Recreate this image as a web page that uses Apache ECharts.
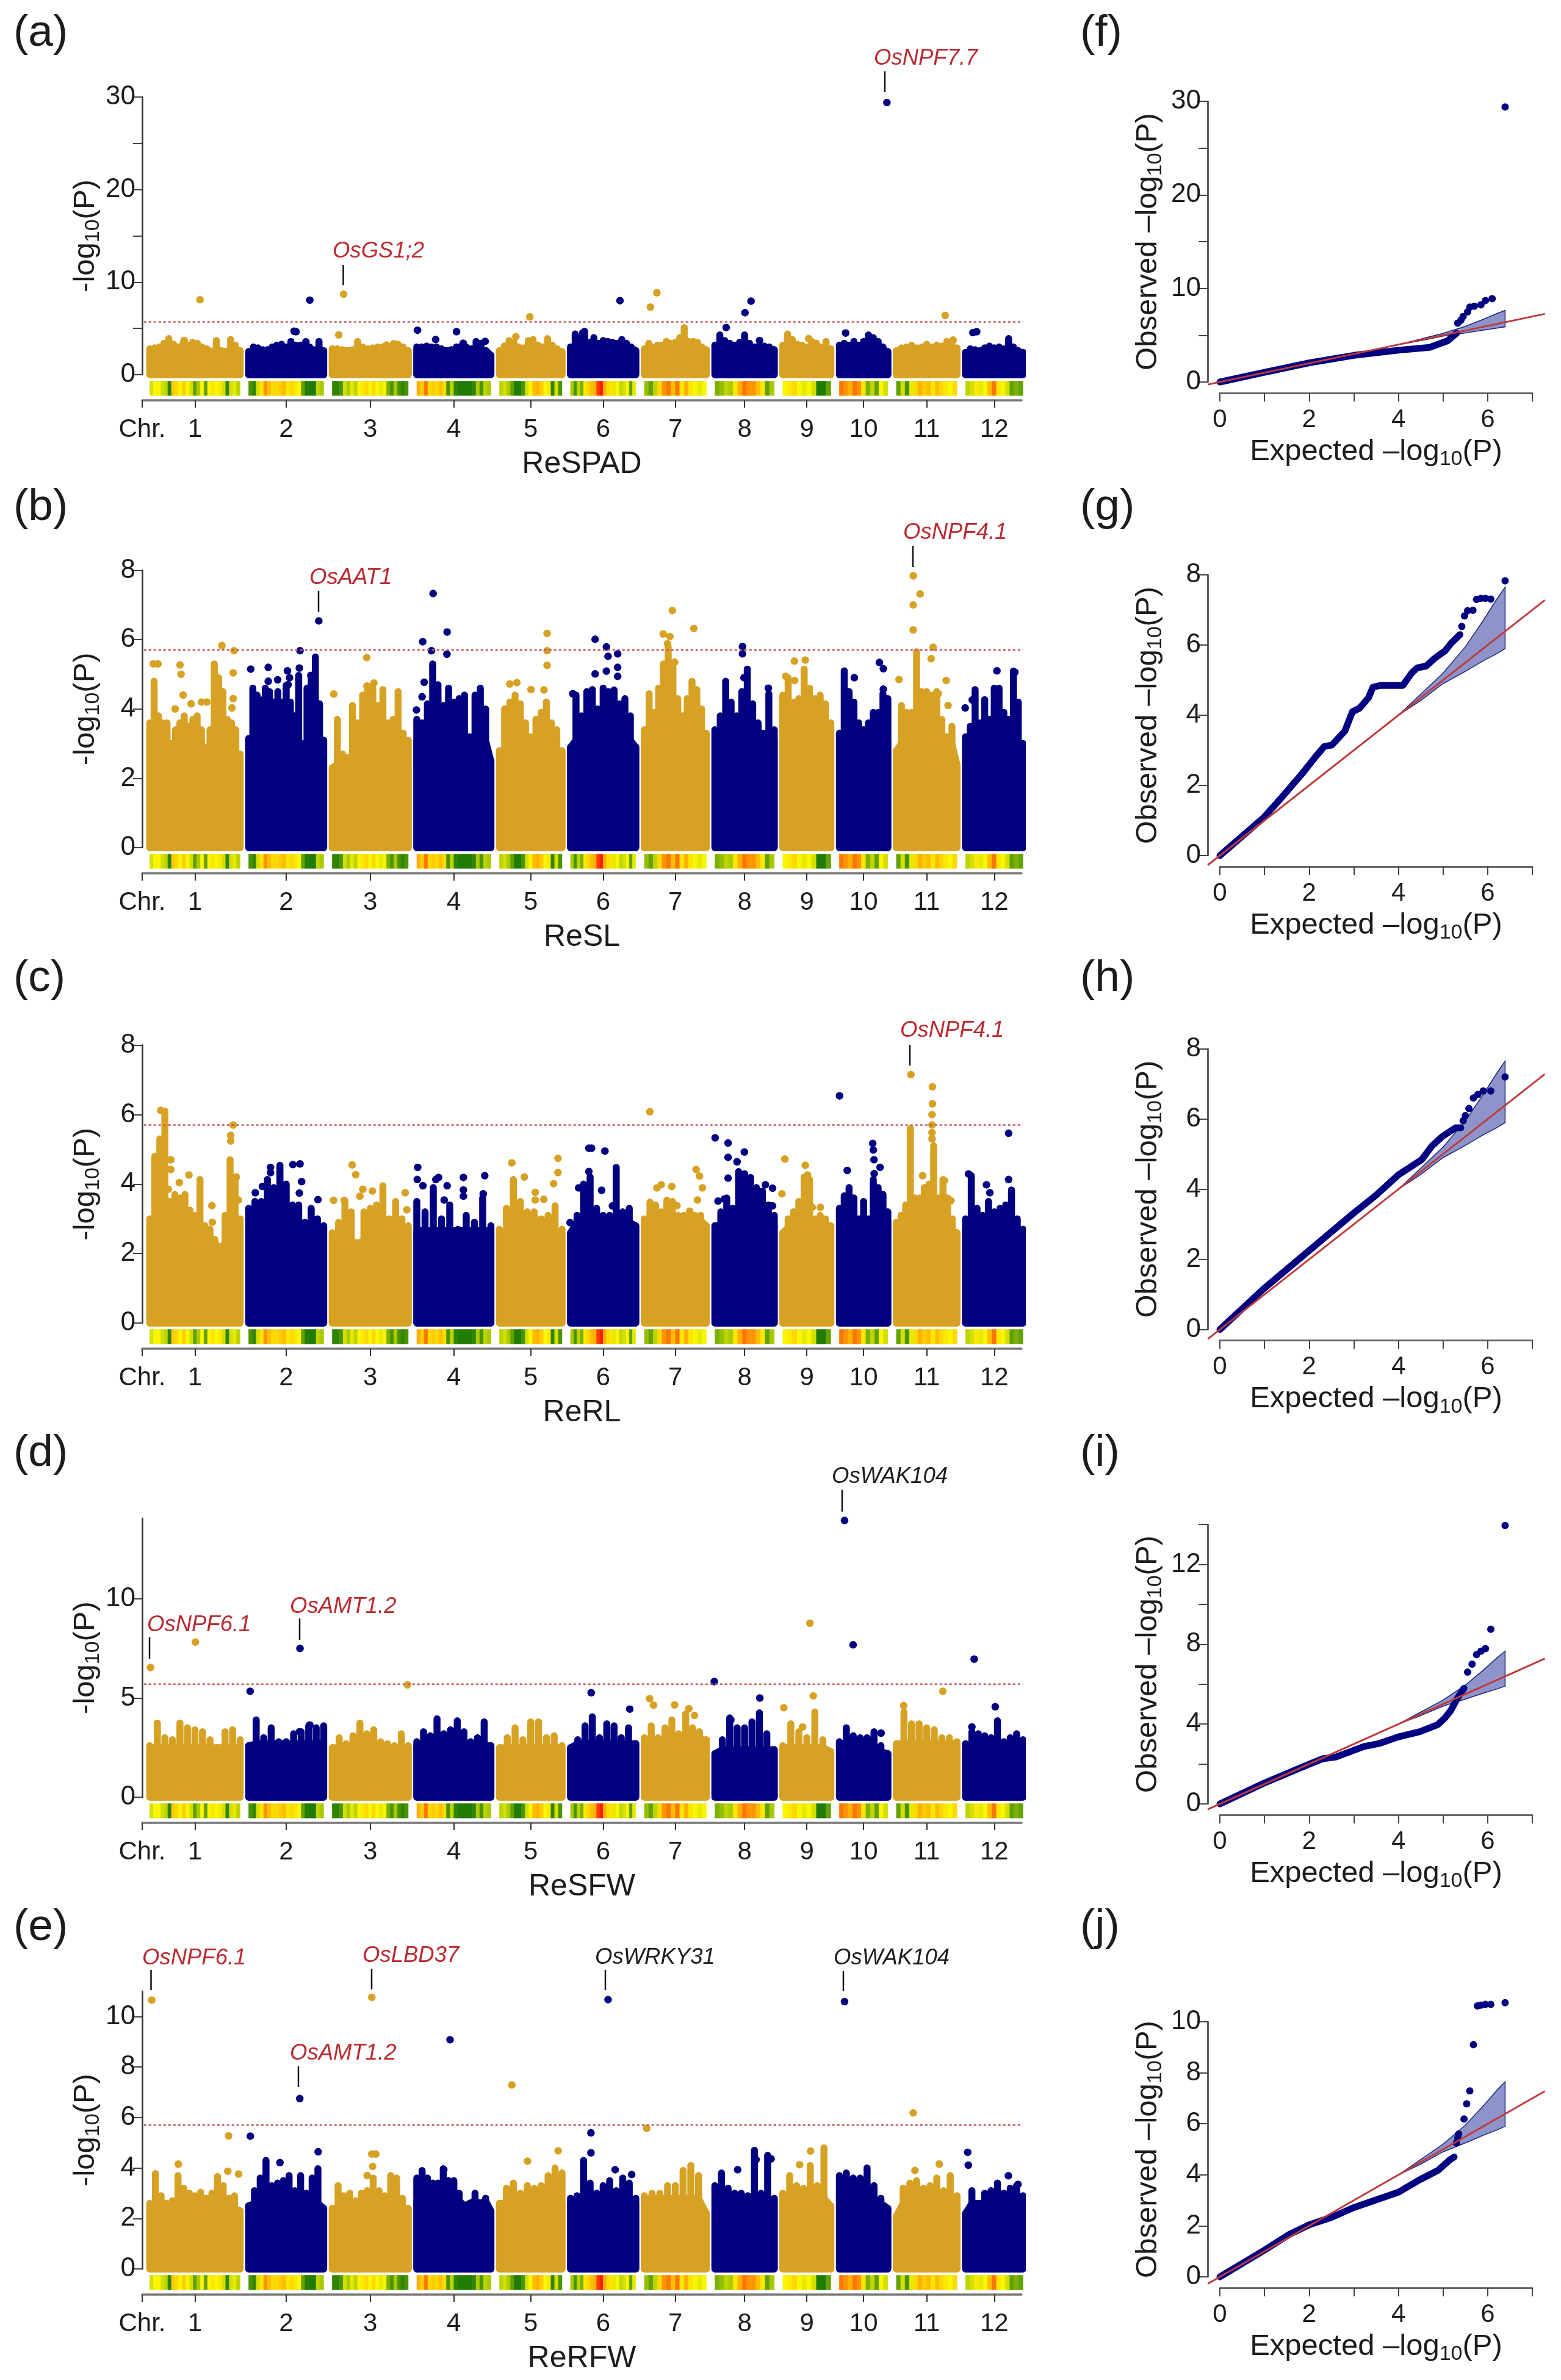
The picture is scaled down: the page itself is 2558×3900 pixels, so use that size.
<!DOCTYPE html>
<html>
<head>
<meta charset="utf-8">
<title>GWAS Manhattan and QQ plots</title>
<script src="https://cdn.jsdelivr.net/npm/echarts@6/dist/echarts.min.js"></script>
<style>html,body{margin:0;padding:0;background:#fff}#chart{width:2558px;height:3900px}</style>
</head>
<body>
<div id="chart"></div>
<script>
// Rice chromosome lengths (Mb) and the spacing used along the genome axis.
const chrLengthsMb = [43.27,35.94,36.41,35.5,29.96,31.25,29.7,28.44,23.01,23.21,29.02,27.53];
const genomeStartMb = 3.65, chrGapMb = 4.1, genomeEndMb = 421.3;
const chrLabels = ['1','2','3','4','5','6','7','8','9','10','11','12'];

// SNP density per chromosome, 0 = sparse (green) to 1 = dense (red).
const snpDensity = [
 [.4,.5,.5,.4,.35,.05,.65,.6,.5,.65,.5,.4,.15,.3,.5,.15,.5,.55,.5,.55,.4,.05,.4,.45,.35],
 [.1,.05,.4,.55,.8,.7,.6,.6,.65,.7,.55,.6,.55,.5,.15,.02,.02,.02,.35,.3],
 [.05,.05,.1,.4,.3,.45,.35,.5,.55,.6,.5,.6,.5,.45,.5,.2,.1,.3,.1,.05,.1],
 [.75,.65,.85,.6,.65,.6,.7,.6,.1,.35,.05,.02,.02,.02,.02,.05,.3,.1,.35,.3],
 [.35,.4,.3,.15,.02,.02,.1,.4,.5,.7,.75,.65,.5,.55,.05,.4,.1],
 [.3,.1,.35,.2,.55,.6,.7,.75,.95,1,.75,.6,.55,.45,.5,.35,.4,.5,.15,.45],
 [.25,.15,.35,.6,.8,.85,.7,.85,.55,.75,.55,.5,.45,.5],
 [.2,.25,.35,.3,.55,.75,.85,.8,.8,.7,.55,.15,.3],
 [.5,.55,.6,.5,.45,.5,.4,.02,.02,.15],
 [.85,.8,.75,.85,.8,.55,.2,.35,.15,.5,.4],
 [.15,.4,.1,.45,.6,.75,.65,.7,.55,.7,.6,.55,.5,.6],
 [.35,.4,.55,.45,.5,.7,.85,.55,.5,.4,.15,.2,.15]
];

// Height below which the SNP cloud is solid on each chromosome, -log10(P).
const coreReSPAD = [2.7,2.6,2.6,2.6,2.6,2.9,2.8,2.8,2.8,2.7,2.7,2.5];
const coreReSL = [2.5,3.0,2.4,3.1,2.7,3.1,3.0,3.1,3.2,3.1,3.0,3.0];
const coreReRL = [2.3,2.66,2.37,2.66,2.5,2.9,2.95,2.8,2.75,2.95,2.66,2.66];
const coreReSFW = [2.5,2.7,2.5,2.6,2.5,2.7,2.9,2.4,2.5,2.3,2.7,2.6];
const coreReRFW = [2.4,2.6,2.4,2.7,2.6,2.6,2.8,2.7,2.8,2.6,2.6,2.6];

// Peak heights of the SNP columns along each chromosome, -log10(P).
const envReSPAD = [
 [2.8,2.9,3.0,3.4,3.9,3.3,3.0,3.4,3.2,3.5,3.4,3.0,2.8,2.5,3.7,2.6,2.5,3.8,3.2,2.6],
 [2.5,3.0,2.9,2.7,2.7,3.0,3.2,3.3,3.0,3.6,3.2,3.2,3.0,3.0,2.7,3.6,2.6],
 [2.8,2.8,2.7,2.6,2.7,3.6,3.0,2.8,2.9,3.0,3.0,3.1,2.9,3.3,3.0,2.6],
 [3.0,3.0,3.1,3.0,3.0,2.8,2.6,2.7,3.0,3.1,3.0,2.8,3.6,3.4,2.6,2.1],
 [2.6,3.1,3.7,3.5,3.0,2.9,3.7,3.8,3.2,3.0,3.9,3.2,2.8,2.5],
 [3.0,4.4,4.0,4.7,3.5,4.0,3.4,3.7,3.6,3.5,3.4,3.8,3.4,3.0,2.6],
 [2.8,3.4,3.0,3.2,3.2,3.6,3.4,3.5,4.0,5.1,3.6,3.6,3.5,3.0,2.7],
 [3.2,4.3,3.7,3.4,3.2,3.5,4.3,3.4,3.0,3.2,3.1,3.0,2.7],
 [3.2,4.4,3.8,3.3,3.2,3.0,3.6,3.4,3.0,3.6,2.8],
 [3.2,3.4,3.2,3.6,3.2,3.6,4.3,4.0,3.6,3.0,2.5],
 [2.6,2.9,3.0,3.2,2.9,3.0,3.3,3.0,3.2,3.1,3.6,3.6,2.9],
 [2.4,2.8,2.7,2.6,2.9,3.1,2.9,3.0,2.8,3.9,3.0,2.6,2.4]
];
const envReSL = [
 [3.6,4.8,3.8,3.6,3.6,3.0,3.4,3.6,3.8,3.5,3.7,3.8,3.4,2.9,3.4,5.3,4.9,4.5,3.7,3.6,3.4,2.7],
 [3.15,4.6,4.4,4.26,4.6,4.5,4.2,4.5,4.2,4.68,4.2,3.8,4.97,3.0,4.6,4.97,5.5,4.15,3.1],
 [2.3,3.7,2.7,2.6,4.1,3.6,4.4,4.6,4.6,4.1,4.56,3.6,3.7,4.5,3.3,3.1],
 [3.7,3.6,4.15,5.3,4.7,4.1,4.6,4.2,4.3,4.4,3.2,4.4,4.6,4.0,2.5],
 [2.8,4.0,4.2,4.4,4.15,3.6,3.2,3.7,3.9,4.2,3.6,3.4,2.8],
 [2.9,4.4,3.8,4.5,4.56,4.0,4.6,4.5,4.55,4.15,4.3,3.8,2.9],
 [3.4,4.44,3.9,4.6,5.3,5.8,5.2,4.3,3.8,4.3,4.8,4.56,4.0,3.3],
 [3.4,3.8,4.8,4.2,3.8,4.5,5.15,4.15,3.6,3.3,4.44,3.4],
 [4.4,4.9,4.2,4.3,5.15,4.6,4.3,4.4,4.15,3.6],
 [3.3,5.1,4.5,4.2,3.6,3.4,3.6,3.9,3.9,4.44,4.3],
 [2.8,4.1,3.9,3.9,5.65,4.5,4.5,4.4,4.5,3.7,3.2,3.5,2.4],
 [3.2,3.5,4.56,3.6,4.27,3.7,4.6,4.6,3.9,3.7,5.09,4.2,3.0]
];
const envReRL = [
 [3.0,4.8,5.3,6.1,3.5,3.7,3.6,3.7,3.25,3.1,4.13,2.8,2.7,2.4,2.14,3.1,4.7,4.2,3.0],
 [3.3,3.5,3.5,4.13,3.9,4.54,4.0,3.4,3.4,2.9,3.3,3.0,2.8],
 [2.6,2.9,3.5,3.2,2.3,3.2,3.3,3.4,3.95,3.0,3.5,3.0,2.8],
 [3.5,3.2,3.9,3.0,3.4,2.7,3.1,2.9,3.6,2.8],
 [2.7,3.3,4.13,3.5,3.2,3.2,3.0,3.1,3.37,2.7],
 [2.6,3.1,4.0,4.2,3.3,3.1,3.1,4.48,3.2,3.3,2.8],
 [3.0,3.48,3.4,3.2,3.54,3.5,3.1,3.1,3.15,3.1,3.1,2.8],
 [2.8,3.2,3.6,3.3,4.36,4.3,4.19,3.9,3.8,3.4,3.1],
 [2.6,3.0,3.2,3.5,4.2,4.13,3.0,3.1,3.0,2.8],
 [3.3,3.66,3.9,3.6,3.0,3.5,3.0,4.13,3.9,3.7,3.2],
 [2.9,3.1,3.4,5.6,3.6,3.6,3.9,4.0,5.1,3.6,4.13,3.6,3.0,2.6],
 [3.0,4.24,3.3,3.1,3.5,3.2,3.3,3.4,3.83,3.0,2.7]
];
const envReSFW = [
 [2.6,3.74,3.0,2.9,3.74,3.5,3.4,3.3,2.9,2.5,3.3,3.4,2.9],
 [2.6,3.9,3.0,3.5,2.8,2.8,3.2,3.3,3.6,3.5,3.6],
 [2.5,3.0,2.7,3.1,3.74,3.2,3.4,2.8,2.7,2.6,3.2,2.6],
 [2.8,3.3,3.1,3.95,3.2,3.4,3.85,3.3,2.8,3.0,3.8,2.6],
 [2.5,3.0,3.5,2.9,3.8,3.8,3.0,3.1,2.6],
 [2.5,2.9,3.6,4.05,3.0,3.7,3.6,3.0,3.5,2.7],
 [3.0,3.6,3.0,3.5,3.9,3.2,4.2,3.5,3.3,2.9],
 [2.2,2.9,4.0,3.5,3.5,3.8,4.25,3.2,2.4],
 [2.6,3.7,3.3,3.0,4.3,2.9,2.3],
 [2.8,3.5,3.1,3.0,3.0,3.3,2.6,2.2],
 [2.7,4.3,3.7,3.7,3.5,3.4,3.0,3.0,2.8],
 [2.7,3.3,3.2,3.1,3.0,3.85,2.8,3.0,3.2,2.9]
];
const envReRFW = [
 [2.6,3.78,2.9,2.6,2.7,3.7,3.2,3.0,2.9,3.04,2.8,3.0,3.66,3.3,2.8,2.9,2.3],
 [2.5,3.1,3.6,4.3,3.3,3.4,3.5,3.7,3.1,3.7,3.0,3.6,3.97,2.4],
 [2.4,3.3,2.9,3.0,2.7,3.0,3.1,3.6,3.1,2.9,3.7,3.6,2.8,2.4],
 [3.6,3.9,3.6,3.4,3.4,3.97,3.5,3.5,3.0,2.5,2.6,3.0,2.6,2.8,2.3],
 [2.6,3.2,3.4,3.0,3.3,3.2,3.3,3.7,4.0,3.8],
 [2.8,2.9,4.3,3.4,3.0,3.3,3.5,3.1,3.6,3.4,2.8],
 [2.9,3.0,3.0,3.3,3.3,3.9,4.1,3.7,2.2],
 [3.3,3.8,3.2,3.0,3.0,2.9,4.7,3.0,4.5,2.8],
 [3.0,3.7,3.3,3.2,4.1,3.3,4.8,2.5],
 [3.7,3.8,3.6,3.6,4.0,3.3,2.8,2.4],
 [2.1,3.2,3.4,3.5,3.2,3.3,3.6,3.1,3.7,2.9],
 [2.2,3.1,2.6,3.0,3.1,3.4,3.0,3.2,3.3,2.9]
];

// Individual SNPs above the cloud: [genome position in Mb, -log10(P)].
const hitsReSPAD = [[27.7,8.1],[72.8,4.7],[73.7,4.65],[80.3,8.05],[78.4,3.55],[96.5,8.7],[94.2,4.3],[20.1,3.7],[185.7,6.25],[131.9,4.8],[140.6,3.8],[150.6,4.65],[153.8,3.4],[164.3,3.6],[179,4.1],[117,3.2],[120.5,3.35],[211.1,4.5],[228.9,8.0],[246.6,8.85],[243.5,7.3],[291.7,7.95],[288.8,6.7],[279.8,5.1],[295.8,3.7],[319.3,3.9],[337,4.5],[356.8,29.4],[384.7,6.4],[388.5,3.75],[398,4.55],[399.8,4.65]];
const hitsReSL = [[5.3,5.3],[7.6,5.3],[18.1,5.27],[18.6,5.0],[19.6,4.4],[15.8,4.0],[23.4,4.15],[28.4,4.2],[31,4.2],[38.2,5.83],[44,5.68],[43.6,5.04],[43,4.03],[43.6,4.3],
 [52,5.15],[60.4,5.2],[69.6,5.1],[70.6,4.9],[75.6,5.68],[75.3,5.18],[84.6,6.54],[80.8,4.97],[60.4,4.8],[64.9,4.84],[69.9,4.7],
 [107.6,5.48],[91.8,4.43],[111,4.75],[107.7,4.66],
 [139.4,7.33],[146.1,6.22],[134.4,5.94],[138.6,5.68],[146,5.58],[135.1,4.77],[134.1,4.35],[131.4,3.97],
 [194,6.18],[194,5.68],[194,5.26],[179.5,4.76],[176.1,4.72],[186.3,4.56],[192.5,4.55],
 [217,6.01],[222.4,5.79],[223.2,5.52],[227.8,5.59],[227.8,5.2],[222.4,5.09],[217,5.01],[227.8,4.94],[206.3,4.44],
 [254,6.84],[264.3,6.32],[249.6,6.16],[252.8,6.09],[251.7,5.88],[255.1,5.35],
 [287.6,5.8],[287.6,5.59],[288.3,4.9],[300,4.6],
 [312.5,5.38],[317.7,5.41],[308.3,4.94],[312.6,4.82],
 [353.2,5.34],[355.1,5.16],[341.2,4.9],[355.1,4.57],
 [369.4,7.84],[372.7,7.32],[369.4,7.0],[369.4,6.28],[378.9,5.78],[378,5.45],[362.6,4.85],[385.2,4.82],[381.4,4.44],[386.1,4.1],
 [409.5,5.1],[418.1,5.06],[394.3,4.03],[397.7,4.26]];
const hitsReRL = [[8.9,6.12],[43.6,5.7],[42.4,5.4],[42.4,5.24],[13.7,4.7],[13.7,4.42],[22.4,4.26],[17.8,4.04],[12.5,3.85],[33.4,3.38],[33.6,2.9],[46.1,3.54],[45.1,4.2],
 [61.5,4.48],[61.5,4.33],[72.2,4.56],[75.6,4.58],[76.4,4.07],[75.3,3.74],[84.2,3.55],[57.6,3.93],[54.2,3.75],
 [100.6,4.55],[102.3,4.27],[105.7,3.85],[104.3,3.65],[110.3,3.8],[126,3.75],[126.8,3.26],[91.7,3.53],[96.8,3.53],
 [132,4.48],[131.8,4.13],[134.5,3.95],[140.7,4.13],[142,4.19],[146.1,3.95],[153.9,4.19],[153.9,3.83],[153.9,3.65],[164.1,4.24],[163.4,3.72],[144.7,3.54],
 [177.1,4.61],[183.1,4.2],[199.2,4.74],[199.2,4.33],[197.1,4.01],[188.3,3.76],[192.4,3.56],[188.3,3.54],
 [214,5.03],[215.3,5.03],[221.7,4.95],[214,4.36],[220.1,3.82],[225.3,3.37],[205,2.89],[209.1,3.89],
 [243.2,6.08],[246.6,3.89],[248.7,3.98],[253.7,3.93],[265.4,4.42],[267,4.23],[268.4,3.89],[266,3.54],[262.3,3.22],[256.2,3.38],
 [274.5,5.33],[280.7,5.18],[280.7,4.77],[285,4.64],[288.5,4.92],[280.7,4.17],[298.6,3.98],[302,3.88],[302,3.37],[275.9,3.51],[279,3.57],
 [307.9,4.72],[317.7,4.54],[318.8,4.26],[306.5,3.72],[321,3.33],[324.9,3.33],
 [334.1,6.54],[337.8,4.39],[350,5.17],[350.3,4.98],[350.6,4.7],[350.7,4.3],[353.5,4.48],
 [368.3,7.15],[378.6,6.8],[378.6,6.31],[378.4,6.0],[378.4,5.7],[378.4,5.48],[378.4,5.3],[373.9,4.24],[384.4,4.1],[387.5,3.52],
 [415.1,5.46],[415.1,4.13],[395.9,4.29],[404.5,3.98],[406.1,3.75]];
const hitsReSFW = [[4,6.54],[25.5,7.82],[75.6,7.5],[51.7,5.34],[127.1,5.66],[215.1,5.27],[233.6,4.44],[274.1,5.83],[295.9,5.0],[282,3.9],[243.1,4.97],[245,4.64],[255.1,4.65],[261.9,4.46],[264.6,4.12],[307.4,4.51],[321.5,5.11],[319.9,8.77],[336.5,13.95],[340.6,7.68],[398.6,6.96],[383.6,5.34],[408.7,4.56],[364.8,4.62],[316.4,3.54],[397.5,3.54],[80.3,3.64],[75.4,3.3],[354,3.23]];
const hitsReRFW = [[4.6,10.65],[110,10.76],[75.5,6.75],[147.5,9.08],[177.1,7.29],[41.4,5.27],[51.8,5.26],[84.3,4.64],[66,4.21],[110,4.55],[111.9,4.55],[110.4,4.06],[199.3,4.68],[184.6,4.27],[215,5.39],[215,4.6],[17.3,4.15],[41,3.87],[46.2,3.76],[144.5,3.93],[107.8,3.7],
 [223.2,10.67],[336.5,10.59],[369.4,6.18],[241.7,5.57],[395.5,4.62],[395.8,4.11],[320.2,4.67],[315,4.13],[226.6,3.93],[234.5,3.74],[370.2,3.9],[381.9,4.15],[415,3.69],[419.6,3.35],[294.1,4.33],[301.3,4.36],[285.3,3.93]];

const genomeThreshold = 5.7;

// QQ plots: the continuous run of SNPs, then the separated top SNPs, as [expected, observed].
const qqReSPADRun = [[0,0],[1,1.03],[2,2.05],[3,2.85],[4,3.4],[4.7,3.7],[5.1,4.4],[5.3,5.2]];
const qqReSPADTop = [[5.33,6.3],[5.4,6.6],[5.45,7],[5.55,7.5],[5.6,8.0],[5.7,8.1],[5.85,8.25],[5.95,8.7],[6.1,8.9],[6.39,29.4]];
const qqReSLRun = [[0,0],[0.98,1.08],[1.38,1.65],[1.84,2.33],[2.14,2.81],[2.34,3.11],[2.51,3.15],[2.8,3.55],[2.97,4.1],[3.13,4.2],[3.33,4.5],[3.43,4.8],[3.6,4.85],[4.1,4.85],[4.29,5.19],[4.42,5.35],[4.62,5.4],[4.81,5.62],[5.05,5.84],[5.18,6.05],[5.38,6.3]];
const qqReSLTop = [[5.42,6.53],[5.48,6.83],[5.55,6.98],[5.67,6.99],[5.75,7.3],[5.85,7.33],[5.95,7.33],[6.07,7.31],[6.39,7.83]];
const qqReRLRun = [[0,0],[0.98,1.16],[2,2.25],[3,3.32],[3.5,3.83],[4,4.41],[4.52,4.84],[4.75,5.23],[4.98,5.5],[5.28,5.75],[5.4,5.75]];
const qqReRLTop = [[5.45,5.95],[5.5,6.1],[5.58,6.3],[5.68,6.6],[5.78,6.7],[5.9,6.8],[6.07,6.8],[6.39,7.2]];
const qqReSFWRun = [[0,0],[0.98,1.03],[2,1.99],[2.3,2.26],[2.6,2.35],[3.23,2.88],[3.56,3.02],[3.99,3.35],[4.48,3.62],[4.88,3.97],[5.04,4.3],[5.18,4.7],[5.31,5.25],[5.47,5.8]];
const qqReSFWTop = [[5.55,6.6],[5.65,7.0],[5.75,7.48],[5.85,7.65],[5.95,7.78],[6.07,8.75],[6.39,13.95]];
const qqReRFWRun = [[0,0],[1,1.05],[1.56,1.67],[2,2.04],[2.51,2.34],[2.99,2.71],[4,3.32],[4.48,3.81],[4.89,4.18],[5.16,4.6],[5.25,4.7]];
const qqReRFWTop = [[5.3,5.25],[5.33,5.45],[5.35,5.6],[5.47,6.19],[5.53,6.78],[5.6,7.29],[5.68,9.1],[5.77,10.62],[5.85,10.65],[5.95,10.68],[6.07,10.68],[6.39,10.75]];

// 95% confidence band of the expected distribution.
const bandExpected = [4.0,4.5,5,5.5,5.9,6.2,6.39];
const bandUpper = [4.0,4.6,5.2,5.95,6.7,7.3,7.65];
const bandLower = [4.0,4.42,4.9,5.25,5.55,5.75,5.9];
const identityLine = [[-0.27,-0.27],[7.28,7.28]];

// Styling
const GOLD = '#D7A224', NAVY = '#000080', RED = '#B82A30', INK = '#1c1c1c';
const FONT = '"Liberation Sans", Arial, sans-serif';
const densityStops = [[0,[22,118,0]],[.25,[150,190,0]],[.5,[250,245,0]],[.75,[255,176,0]],[1,[250,30,0]]];
function densityColor(d){
  for(let i=1;i<densityStops.length;i++){
    if(d<=densityStops[i][0]){
      const a=densityStops[i-1],b=densityStops[i],t=(d-a[0])/(b[0]-a[0]);
      return 'rgb('+a[1].map((v,k)=>Math.round(v+(b[1][k]-v)*t)).join(',')+')';
    }
  }
  return 'rgb(250,30,0)';
}

// Chromosome extents along the genome axis.
const chrStart=[]; let cursor=genomeStartMb;
chrLengthsMb.forEach(len=>{chrStart.push(cursor);cursor+=len+chrGapMb;});
const chrCentre=chrLengthsMb.map((len,i)=>chrStart[i]+len/2);
const chromOf=pos=>{let k=0;chrStart.forEach((s,i)=>{if(pos>=s-chrGapMb/2)k=i;});return k;};

// Panel layout in page pixels.
const manhattanPanels=[
 {title:'ReSPAD',env:envReSPAD,core:coreReSPAD,hits:hitsReSPAD,zero:614,top:159,max:30,ticks:[0,5,10,15,20,25,30],labels:[0,10,20,30]},
 {title:'ReSL',env:envReSL,core:coreReSL,hits:hitsReSL,zero:1389,top:934.5,max:8,ticks:[0,2,4,6,8],labels:[0,2,4,6,8]},
 {title:'ReRL',env:envReRL,core:coreReRL,hits:hitsReRL,zero:2168,top:1712.5,max:8,ticks:[0,2,4,6,8],labels:[0,2,4,6,8]},
 {title:'ReSFW',env:envReSFW,core:coreReSFW,hits:hitsReSFW,zero:2945,top:2488,max:14.06,ticks:[0,5,10],labels:[0,5,10]},
 {title:'ReRFW',env:envReRFW,core:coreReRFW,hits:hitsReRFW,zero:3718,top:3263,max:11,ticks:[0,2,4,6,8,10],labels:[0,2,4,6,8,10]}
];
const qqPanels=[
 {run:qqReSPADRun,top5:qqReSPADTop,zero:626,top:166,max:30,ticks:[0,5,10,15,20,25,30],labels:[0,10,20,30]},
 {run:qqReSLRun,top5:qqReSLTop,zero:1402,top:942,max:8,ticks:[0,2,4,6,8],labels:[0,2,4,6,8]},
 {run:qqReRLRun,top5:qqReRLTop,zero:2178.6,top:1718.8,max:8,ticks:[0,2,4,6,8],labels:[0,2,4,6,8]},
 {run:qqReSFWRun,top5:qqReSFWTop,zero:2956,top:2498,max:14,ticks:[0,2,4,6,8,10,12,14],labels:[0,4,8,12]},
 {run:qqReRFWRun,top5:qqReRFWTop,zero:3731,top:3313,max:10,ticks:[0,2,4,6,8,10],labels:[0,2,4,6,8,10]}
];

const M_LEFT=233,M_RIGHT=1674,Q_AXIS=1979,Q_X0=1999,Q_X7=2511;
const qUnit=(Q_X7-Q_X0)/7, Q_RIGHT=2533;

const grid=[],xAxis=[],yAxis=[],series=[];
const richLog={t:{fontSize:49,fontFamily:FONT,color:INK,lineHeight:60,verticalAlign:'middle'},
               s:{fontSize:34,fontFamily:FONT,color:INK,lineHeight:60,verticalAlign:'bottom'}};
const yAxisStyle=(p,nameStr,gap,labelDrop)=>({
  type:'value',min:0,max:p.max,position:'left',
  name:nameStr,nameLocation:'middle',nameGap:gap,nameRotate:90,nameMoveOverlap:false,
  nameTextStyle:{rich:richLog},
  axisLine:{show:true,onZero:false,lineStyle:{color:'#333',width:2.5}},
  axisTick:{show:true,length:15,lineStyle:{color:'#444',width:2},customValues:p.ticks},
  axisLabel:{show:true,fontSize:44,fontFamily:FONT,color:INK,margin:11,customValues:p.labels,hideOverlap:false,padding:[labelDrop,0,0,0]},
  splitLine:{show:false}
});
const hiddenAxis=(min,max,gi)=>({type:'value',gridIndex:gi,min,max,show:false,splitLine:{show:false}});

manhattanPanels.forEach(p=>{
  // scatter area
  const g=grid.length;
  grid.push({left:M_LEFT,width:M_RIGHT-M_LEFT,top:p.top,height:p.zero-p.top});
  xAxis.push(hiddenAxis(0,genomeEndMb,g));
  yAxis.push(Object.assign(yAxisStyle(p,'{t|-log}{s|10}{t|(P)}',63,5),{gridIndex:g}));
  // density strip and chromosome axis
  const h=grid.length;
  grid.push({left:M_LEFT,width:M_RIGHT-M_LEFT,top:p.zero+10.5,height:31.5});
  const tickVals=[0].concat(chrCentre);
  xAxis.push({type:'value',gridIndex:h,min:0,max:genomeEndMb,position:'bottom',
    name:p.title,nameLocation:'middle',nameGap:80,nameTextStyle:{fontSize:50,fontFamily:FONT,color:INK},nameMoveOverlap:false,
    axisLine:{show:true,onZero:false,lineStyle:{color:'#777',width:3.5}},
    axisTick:{show:true,length:12,lineStyle:{color:'#333',width:2},customValues:tickVals},
    axisLabel:{show:true,fontSize:42,fontFamily:FONT,color:INK,margin:27,hideOverlap:false,customValues:tickVals,
      formatter:v=>{if(v===0)return 'Chr.';const i=chrCentre.findIndex(c=>Math.abs(c-v)<1e-6);return i>=0?chrLabels[i]:'';}},
    splitLine:{show:false}});
  yAxis.push(hiddenAxis(0,1,h));

  p.env.forEach((heights,c)=>{
    const s=chrStart[c],len=chrLengthsMb[c],n=heights.length;
    const col=c%2===0?GOLD:NAVY;
    const xAt=i=>s+len*i/(n-1);
    // solid body of the SNP cloud
    const body=[[s,0]];
    heights.forEach((v,i)=>body.push([xAt(i),Math.min(v,p.core[c])]));
    body.push([s+len,0],[s,0]);
    series.push({type:'line',xAxisIndex:g,yAxisIndex:g,data:body,showSymbol:false,clip:false,silent:true,z:2,
      lineStyle:{color:col,width:11,cap:'round',join:'round'},itemStyle:{color:col},
      areaStyle:{color:col,opacity:1,origin:0}});
    // SNP columns rising out of the body
    const columns=[];
    heights.forEach((v,i)=>columns.push([xAt(i),0],[xAt(i),v],[xAt(i),0]));
    series.push({type:'line',xAxisIndex:g,yAxisIndex:g,data:columns,showSymbol:false,clip:false,silent:true,z:2,
      lineStyle:{color:col,width:11.5,cap:'round',join:'round'},itemStyle:{color:col}});
  });
  // SNPs standing clear of the clouds
  [[0,GOLD],[1,NAVY]].forEach(([parity,col])=>{
    series.push({type:'scatter',xAxisIndex:g,yAxisIndex:g,clip:false,silent:true,z:3,symbolSize:12.5,
      data:p.hits.filter(d=>chromOf(d[0])%2===parity),itemStyle:{color:col,opacity:1}});
  });
  // significance threshold
  series.push({type:'line',xAxisIndex:g,yAxisIndex:g,showSymbol:false,clip:false,silent:true,z:4,
    data:[[0.8,genomeThreshold],[genomeEndMb+0.6,genomeThreshold]],
    lineStyle:{color:'#C45A62',width:2.6,type:[4,4]}});
  // density strip
  const cells=[];
  snpDensity.forEach((row,c)=>{
    const step=chrLengthsMb[c]/row.length;
    row.forEach((d,i)=>cells.push([chrStart[c]+i*step,chrStart[c]+(i+1)*step,d]));
  });
  series.push({type:'custom',xAxisIndex:h,yAxisIndex:h,silent:true,z:2,clip:false,data:cells,
    encode:{x:[0,1]},
    renderItem:(params,api)=>{
      const a=api.coord([api.value(0),1]),b=api.coord([api.value(1),0.25]);
      const col=densityColor(api.value(2));
      return {type:'rect',shape:{x:a[0],y:a[1],width:b[0]-a[0],height:b[1]-a[1]},style:{fill:col,stroke:col,lineWidth:0.6}};
    }});
});

qqPanels.forEach(p=>{
  const g=grid.length;
  const xMin=(Q_AXIS-Q_X0)/qUnit,xMax=(Q_RIGHT-Q_X0)/qUnit;
  grid.push({left:Q_AXIS,width:Q_RIGHT-Q_AXIS,top:p.top,height:p.zero-p.top});
  xAxis.push(hiddenAxis(xMin,xMax,g));
  yAxis.push(Object.assign(yAxisStyle(p,'{t|Observed –log}{s|10}{t|(P)}',68,9),{gridIndex:g}));
  const h=grid.length;
  grid.push({left:Q_X0,width:Q_X7-Q_X0,top:p.zero+17,height:1});
  xAxis.push({type:'value',gridIndex:h,min:0,max:7,position:'bottom',
    name:'{t|Expected –log}{s|10}{t|(P)}',nameLocation:'middle',nameGap:66,nameTextStyle:{rich:richLog},nameMoveOverlap:false,
    axisLine:{show:true,onZero:false,lineStyle:{color:'#666',width:3}},
    axisTick:{show:true,length:14,lineStyle:{color:'#444',width:2},customValues:[0,1,2,3,4,5,6,7]},
    axisLabel:{show:true,fontSize:42,fontFamily:FONT,color:INK,margin:23,hideOverlap:false,customValues:[0,2,4,6]},
    splitLine:{show:false}});
  yAxis.push(hiddenAxis(0,1,h));

  // confidence band
  series.push({type:'custom',xAxisIndex:g,yAxisIndex:g,silent:true,z:2,clip:false,data:[[0,0]],
    renderItem:(params,api)=>{
      const pts=bandExpected.map((x,i)=>api.coord([x,bandUpper[i]]))
        .concat(bandExpected.map((x,i)=>api.coord([x,bandLower[i]])).reverse());
      return {type:'polygon',shape:{points:pts},style:{fill:'rgba(72,82,170,0.62)',stroke:'#1c2a78',lineWidth:1.5}};
    }});
  // observed SNPs
  series.push({type:'line',xAxisIndex:g,yAxisIndex:g,showSymbol:false,clip:false,silent:true,z:3,data:p.run,
    lineStyle:{color:NAVY,width:11,cap:'round',join:'round'},itemStyle:{color:NAVY}});
  series.push({type:'scatter',xAxisIndex:g,yAxisIndex:g,clip:false,silent:true,z:3,symbolSize:12,data:p.top5,itemStyle:{color:NAVY,opacity:1}});
  // expected line
  series.push({type:'line',xAxisIndex:g,yAxisIndex:g,showSymbol:false,clip:false,silent:true,z:4,data:identityLine,
    lineStyle:{color:'#BE3A3A',width:3}});
});

// Panel letters and candidate gene call-outs.
const panelLetters=[['(a)',22,55],['(b)',22,832],['(c)',22,1604],['(d)',22,2382],['(e)',22,3159],
                    ['(f)',1770,55],['(g)',1770,832],['(h)',1770,1604],['(i)',1770,2382],['(j)',1770,3159]];
const geneCallouts=[
 ['OsGS1;2',545,412,562.5,434,467,RED],
 ['OsNPF7.7',1432,96,1450,117,151,RED],
 ['OsAAT1',507,947,522,968,1003,RED],
 ['OsNPF4.1',1480,873,1496,895,929,RED],
 ['OsNPF4.1',1475,1689,1491,1712,1746,RED],
 ['OsWAK104',1363,2420,1380,2441,2477,INK],
 ['OsNPF6.1',241,2663,245,2683,2718,RED],
 ['OsAMT1.2',475,2633,491,2652,2687,RED],
 ['OsNPF6.1',233,3209,247.5,3228,3261,RED],
 ['OsLBD37',594,3205,609,3226,3260,RED],
 ['OsAMT1.2',475,3365,489,3386,3420,RED],
 ['OsWRKY31',975,3208,992,3228,3261,INK],
 ['OsWAK104',1366,3209,1382,3230,3263,INK]
];
const graphic=[];
panelLetters.forEach(([t,x,y])=>graphic.push({type:'text',silent:true,style:{text:t,x,y,fill:INK,font:'73px '+FONT,textAlign:'left',textVerticalAlign:'middle'}}));
geneCallouts.forEach(([t,x,y,px,y0,y1,col])=>{
  graphic.push({type:'text',silent:true,style:{text:t,x,y,fill:col,font:'italic 36.5px '+FONT,textAlign:'left',textVerticalAlign:'middle'}});
  graphic.push({type:'line',silent:true,shape:{x1:px,y1:y0,x2:px,y2:y1},style:{stroke:'#111',lineWidth:2.5}});
});

const chart=echarts.init(document.getElementById('chart'),null,{renderer:'canvas'});
chart.setOption({backgroundColor:'#fff',animation:false,tooltip:{show:false},grid,xAxis,yAxis,series,graphic});
</script>
</body>
</html>
